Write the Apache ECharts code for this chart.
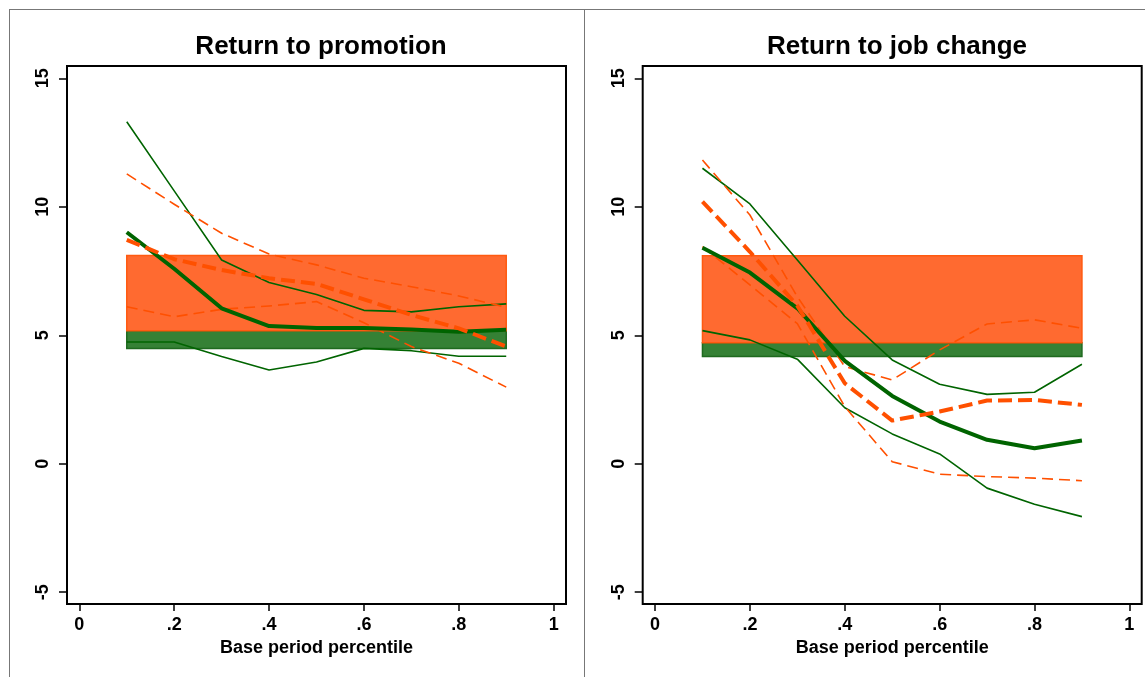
<!DOCTYPE html>
<html>
<head>
<meta charset="utf-8">
<script src="https://cdn.jsdelivr.net/npm/echarts@6/dist/echarts.min.js"></script>
<style>html,body{margin:0;padding:0;background:#fff}#c{width:1145px;height:677px}</style>
</head>
<body>
<div id="c"></div>
<script>
// ---- data ----
const xVals = [0.1, 0.2, 0.3, 0.4, 0.5, 0.6, 0.7, 0.8, 0.9];
const xTicks = [0, 0.2, 0.4, 0.6, 0.8, 1];
const yTicks = [-5, 0, 5, 10, 15];
const titles = ['Return to promotion', 'Return to job change'];
const xName = 'Base period percentile';

// Return to promotion
const promoGreenEst  = [9.01, 7.59, 6.05, 5.36, 5.28, 5.28, 5.22, 5.14, 5.21];
const promoGreenHi   = [13.31, 10.62, 7.93, 7.05, 6.59, 5.97, 5.91, 6.11, 6.22];
const promoGreenLo   = [4.74, 4.74, 4.17, 3.65, 3.96, 4.49, 4.40, 4.18, 4.18];
const promoOrangeEst = [8.71, 7.96, 7.54, 7.22, 7.00, 6.40, 5.79, 5.27, 4.56];
const promoOrangeHi  = [11.28, 10.10, 8.97, 8.16, 7.74, 7.22, 6.89, 6.53, 6.09];
const promoOrangeLo  = [6.11, 5.72, 6.01, 6.14, 6.31, 5.49, 4.56, 3.91, 2.98];
const promoOrangeBand = [5.18, 8.10];
const promoGreenBand  = [4.48, 5.18];

// Return to job change
const jobGreenEst  = [8.41, 7.44, 6.05, 4.00, 2.64, 1.64, 0.93, 0.60, 0.90];
const jobGreenHi   = [11.50, 10.11, 7.93, 5.74, 4.04, 3.09, 2.70, 2.78, 3.87];
const jobGreenLo   = [5.18, 4.82, 4.07, 2.18, 1.16, 0.38, -0.95, -1.58, -2.06];
const jobOrangeEst = [10.20, 8.25, 6.15, 3.13, 1.68, 2.03, 2.46, 2.48, 2.29];
const jobOrangeHi  = [11.82, 9.68, 6.50, 3.78, 3.26, 4.43, 5.44, 5.60, 5.27];
const jobOrangeLo  = [8.45, 6.96, 5.45, 2.22, 0.08, -0.41, -0.50, -0.56, -0.66];
const jobOrangeBand = [4.71, 8.09];
const jobGreenBand  = [4.17, 4.71];
const bandX = [0.1, 0.9];

// ---- styling ----
const FONT = 'Liberation Sans, Arial, sans-serif';
const GREEN = '#006400';
const ORANGE = '#ff5000';
const GREEN_FILL = '#358135';
const ORANGE_FILL = '#ff6a30';

const pairs = d => xVals.map((x, i) => [x, d[i]]);

function lineSeries(idx, data, color, width, dash, z) {
  return {
    type: 'line', xAxisIndex: idx, yAxisIndex: idx, data: pairs(data),
    showSymbol: false, symbol: 'none', silent: true, z: z,
    lineStyle: { color: color, width: width, type: dash || 'solid', cap: 'butt', join: 'round' }
  };
}
function bandSeries(idx, orangeBand, greenBand) {
  return {
    type: 'line', xAxisIndex: idx, yAxisIndex: idx, data: [], z: 1, silent: true,
    markArea: {
      silent: true,
      data: [
        [{ coord: [bandX[0], greenBand[0]], itemStyle: { color: GREEN_FILL, borderColor: '#1f6a1f', borderWidth: 1.5 } },
         { coord: [bandX[1], greenBand[1]] }],
        [{ coord: [bandX[0], orangeBand[0]], itemStyle: { color: ORANGE_FILL, borderColor: '#ff5a10', borderWidth: 1.5 } },
         { coord: [bandX[1], orangeBand[1]] }]
      ]
    }
  };
}

const gridTop = 66, gridH = 538, gridW = 499;
const grids = [
  { left: 67, top: gridTop, width: gridW, height: gridH },
  { left: 642.7, top: gridTop, width: gridW, height: gridH }
].map(g => Object.assign(g, { show: true, borderColor: '#000', borderWidth: 2, backgroundColor: '#fff', containLabel: false }));

const xAxes = [0, 1].map(i => ({
  type: 'value', gridIndex: i, min: -0.026, max: 1.026, position: 'bottom',
  axisLine: { show: false, onZero: false },
  axisTick: { show: true, customValues: xTicks, length: 7, lineStyle: { color: '#000', width: 1.5 } },
  axisLabel: {
    customValues: xTicks, margin: 12, color: '#000', fontSize: 18, fontWeight: 'bold', fontFamily: FONT,
    formatter: v => (v === 0 ? '0' : v === 1 ? '1' : String(Math.round(v * 10) / 10).replace(/^0/, ''))
  },
  splitLine: { show: false },
  name: xName, nameLocation: 'middle', nameGap: 33,
  nameTextStyle: { color: '#000', fontSize: 18, fontWeight: 'bold', fontFamily: FONT }
}));

const yAxes = [0, 1].map(i => ({
  type: 'value', gridIndex: i, min: -5.46, max: 15.48, position: 'left',
  axisLine: { show: false, onZero: false },
  axisTick: { show: true, customValues: yTicks, length: 8, lineStyle: { color: '#000', width: 1.5 } },
  axisLabel: {
    customValues: yTicks, rotate: 90, margin: 15, color: '#000', fontSize: 18, fontWeight: 'bold', fontFamily: FONT
  },
  splitLine: { show: false }
}));

const series = [
  bandSeries(0, promoOrangeBand, promoGreenBand),
  lineSeries(0, promoGreenHi, GREEN, 1.6, 'solid', 5),
  lineSeries(0, promoGreenLo, GREEN, 1.6, 'solid', 5),
  lineSeries(0, promoOrangeHi, ORANGE, 1.6, [11, 6], 5),
  lineSeries(0, promoOrangeLo, ORANGE, 1.6, [11, 6], 5),
  lineSeries(0, promoGreenEst, GREEN, 4, 'solid', 6),
  lineSeries(0, promoOrangeEst, ORANGE, 4, [14, 6], 7),
  bandSeries(1, jobOrangeBand, jobGreenBand),
  lineSeries(1, jobGreenHi, GREEN, 1.6, 'solid', 5),
  lineSeries(1, jobGreenLo, GREEN, 1.6, 'solid', 5),
  lineSeries(1, jobOrangeHi, ORANGE, 1.6, [11, 6], 5),
  lineSeries(1, jobOrangeLo, ORANGE, 1.6, [11, 6], 5),
  lineSeries(1, jobGreenEst, GREEN, 4, 'solid', 6),
  lineSeries(1, jobOrangeEst, ORANGE, 4, [14, 6], 7)
];

const chart = echarts.init(document.getElementById('c'), null, { renderer: 'canvas' });
chart.setOption({
  backgroundColor: '#fff',
  animation: false,
  title: [
    { text: titles[0], left: 316, top: 29, textAlign: 'center',
      textStyle: { color: '#000', fontSize: 26, fontWeight: 'bold', fontFamily: FONT } },
    { text: titles[1], left: 892, top: 29, textAlign: 'center',
      textStyle: { color: '#000', fontSize: 26, fontWeight: 'bold', fontFamily: FONT } }
  ],
  grid: grids,
  xAxis: xAxes,
  yAxis: yAxes,
  series: series,
  graphic: [
    { type: 'line', shape: { x1: 9, y1: 9.5, x2: 1145, y2: 9.5 }, style: { stroke: '#777', lineWidth: 1 }, silent: true },
    { type: 'line', shape: { x1: 9.5, y1: 9, x2: 9.5, y2: 677 }, style: { stroke: '#777', lineWidth: 1 }, silent: true },
    { type: 'line', shape: { x1: 584.5, y1: 9, x2: 584.5, y2: 677 }, style: { stroke: '#777', lineWidth: 1 }, silent: true }
  ]
});
</script>
</body>
</html>
